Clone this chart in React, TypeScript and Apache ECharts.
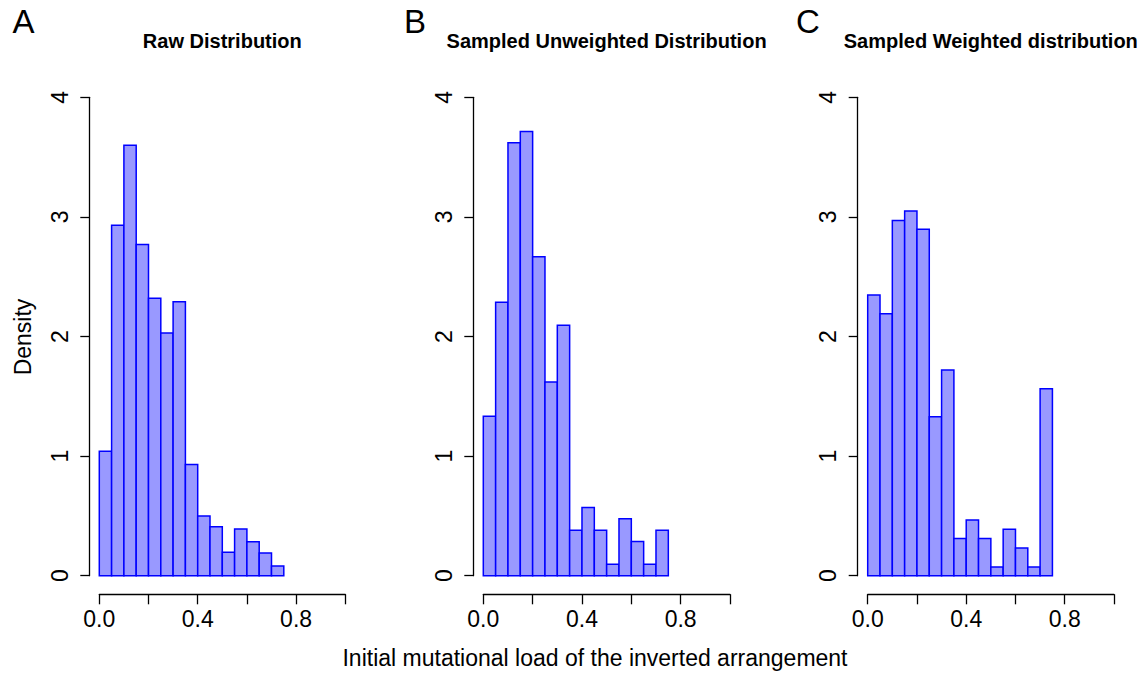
import React, { useEffect, useRef } from "react";
import * as echarts from "echarts";

const binEdges = [0, 0.05, 0.1, 0.15, 0.2, 0.25, 0.3, 0.35, 0.4, 0.45, 0.5, 0.55, 0.6, 0.65, 0.7, 0.75];
const rawDensity = [1.04, 2.93, 3.6, 2.77, 2.32, 2.03, 2.29, 0.93, 0.5, 0.41, 0.196, 0.39, 0.284, 0.19, 0.081];
const unweightedDensity = [1.333, 2.286, 3.619, 3.714, 2.667, 1.619, 2.095, 0.381, 0.571, 0.381, 0.095, 0.476, 0.286, 0.095, 0.381];
const weightedDensity = [2.347, 2.19, 2.97, 3.05, 2.896, 1.33, 1.72, 0.31, 0.466, 0.31, 0.073, 0.388, 0.232, 0.073, 1.564];
const panelTitles = ["Raw Distribution", "Sampled Unweighted Distribution", "Sampled Weighted distribution"];
const panelLetters = ["A", "B", "C"];
const xLabelValues = [0, 0.4, 0.8];
const yLabel = "Density";
const xLabel = "Initial mutational load of the inverted arrangement";

const FONT = "'Liberation Sans', Arial, Helvetica, sans-serif";

const panels = [
  { left: 99.3, width: 246, values: rawDensity, letterX: 23.5, titleX: 222.3 },
  { left: 483.3, width: 246.7, values: unweightedDensity, letterX: 415, titleX: 606.6 },
  { left: 867.7, width: 246.3, values: weightedDensity, letterX: 808, titleX: 990.8 },
];
const GRID_TOP = 97.3;
const GRID_H = 478.4;

export default function App() {
  const ref = useRef<HTMLDivElement>(null);
  useEffect(() => {
    if (!ref.current) return;
    const chart = echarts.init(ref.current, null, { renderer: "svg" });
    const grids = panels.map((p) => ({ left: p.left, top: GRID_TOP, width: p.width, height: GRID_H, containLabel: false }));
    const xAxes = panels.map((_, i) => ({
      type: "value",
      gridIndex: i,
      min: 0,
      max: 1,
      interval: 0.2,
      offset: 18.6,
      axisLine: { show: true, onZero: false, lineStyle: { color: "#000", width: 1.3 } },
      axisTick: { show: true, length: 10, lineStyle: { color: "#000", width: 1.3 } },
      splitLine: { show: false },
      axisLabel: {
        margin: 13,
        fontSize: 23,
        color: "#000",
        fontFamily: FONT,
        showMinLabel: true,
        showMaxLabel: true,
        formatter: (v: number) => (xLabelValues.some((t) => Math.abs(t - v) < 1e-6) ? v.toFixed(1) : ""),
      },
    }));
    const yAxes = panels.map((_, i) => ({
      type: "value",
      gridIndex: i,
      min: 0,
      max: 4,
      interval: 1,
      offset: 10,
      axisLine: { show: true, onZero: false, lineStyle: { color: "#000", width: 1.3 } },
      axisTick: { show: true, length: 9, lineStyle: { color: "#000", width: 1.3 } },
      splitLine: { show: false },
      axisLabel: { rotate: 90, margin: 18, fontSize: 23, color: "#000", fontFamily: FONT },
    }));
    const series = panels.map((p, i) => ({
      type: "custom",
      xAxisIndex: i,
      yAxisIndex: i,
      encode: { x: [0, 1], y: 2 },
      data: p.values.map((v, k) => [binEdges[k], binEdges[k] + (binEdges[1] - binEdges[0]), v]),
      renderItem: (params: any, api: any) => {
        const x0 = api.value(0);
        const x1 = api.value(1);
        const h = api.value(2);
        const a = api.coord([x0, h]);
        const b = api.coord([x1, 0]);
        return {
          type: "rect",
          shape: { x: a[0], y: a[1], width: b[0] - a[0], height: b[1] - a[1] },
          style: { fill: "#9999ff", stroke: "#0000ff", lineWidth: 1.5 },
        };
      },
    }));
    const graphic: any[] = [];
    panels.forEach((p, i) => {
      graphic.push({
        type: "text",
        x: p.letterX,
        y: 21,
        style: { text: panelLetters[i], fontSize: 33, fontFamily: FONT, fill: "#000", align: "center", verticalAlign: "middle" },
      });
      graphic.push({
        type: "text",
        x: p.titleX,
        y: 41,
        style: { text: panelTitles[i], fontSize: 20, fontWeight: "bold", fontFamily: FONT, fill: "#000", align: "center", verticalAlign: "middle" },
      });
    });
    graphic.push({
      type: "text",
      x: 23,
      y: 337,
      rotation: Math.PI / 2,
      style: { text: yLabel, fontSize: 23, fontFamily: FONT, fill: "#000", align: "center", verticalAlign: "middle" },
    });
    graphic.push({
      type: "text",
      x: 595,
      y: 658,
      style: { text: xLabel, fontSize: 23, fontFamily: FONT, fill: "#000", align: "center", verticalAlign: "middle" },
    });
    chart.setOption({
      animation: false,
      backgroundColor: "#fff",
      grid: grids,
      xAxis: xAxes,
      yAxis: yAxes,
      series,
      graphic,
    });
    return () => chart.dispose();
  }, []);
  return <div ref={ref} style={{ position: "fixed", left: 0, top: 0, width: 1143, height: 673 }} />;
}
